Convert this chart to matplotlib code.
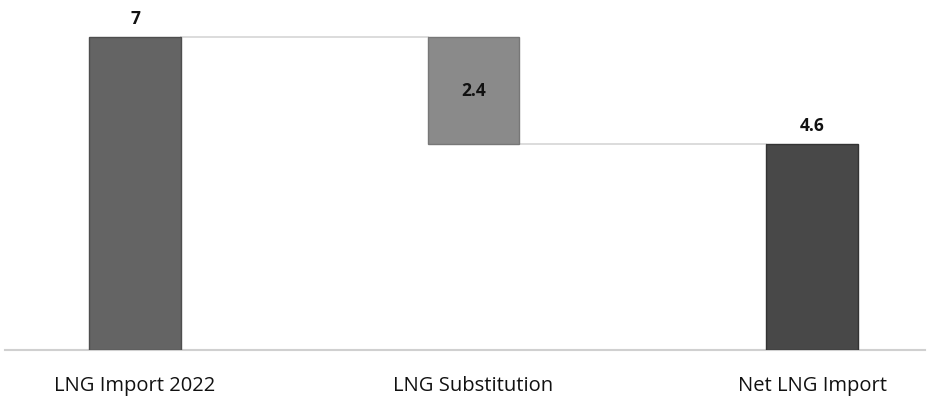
import matplotlib
matplotlib.use("Agg")
import matplotlib.pyplot as plt
from matplotlib import font_manager

categories = ["LNG Import 2022", "LNG Substitution", "Net LNG Import"]
values = [7.0, -2.4, 4.6]
labels = ["7", "2.4", "4.6"]
colors = ["#646464", "#8a8a8a", "#484848"]
edges = ["#4e4e4e", "#777777", "#333333"]

names = {f.name for f in font_manager.fontManager.ttflist}
narrow = "Liberation Sans Narrow" if "Liberation Sans Narrow" in names else "Open Sans"

fig = plt.figure(figsize=(9.3, 3.96), dpi=100)
ax = fig.add_axes([5 / 930, 46 / 396, 920 / 930, 350 / 396])

# waterfall geometry: totals start at zero, the change floats from the running total
start = values[0]
bottoms = [0, start + values[1], 0]
heights = [values[0], -values[1], values[2]]
x = list(range(len(categories)))
width = 0.27

ax.bar(x, heights, bottom=bottoms, width=width, color=colors,
       edgecolor=edges, linewidth=1.0, zorder=3)

# connectors between consecutive bars
tops = [b + h for b, h in zip(bottoms, heights)]
levels = [tops[0], bottoms[1]]
for i, lvl in enumerate(levels):
    ax.plot([x[i] + width / 2, x[i + 1] - width / 2], [lvl, lvl],
            color="#d9d9d9", lw=1.3, zorder=2)

# value labels
lbl = dict(fontsize=12.5, fontweight="bold", family=narrow, color="#111111")
ax.text(x[0], tops[0] + 0.2, labels[0], ha="center", va="bottom", **lbl)
ax.text(x[1], bottoms[1] + heights[1] / 2, labels[1], ha="center", va="center", **lbl)
ax.text(x[2], tops[2] + 0.2, labels[2], ha="center", va="bottom", **lbl)

ax.set_xlim((5 - 135) / 338.5, (925 - 135) / 338.5)
ax.set_ylim(0, 350 / 44.7)
ax.set_xticks(x)
ax.set_xticklabels(categories, family=narrow, fontsize=14.5, color="#111111")
ax.tick_params(axis="x", length=0, pad=19)
ax.set_yticks([])
for side in ["top", "right", "left"]:
    ax.spines[side].set_visible(False)
ax.spines["bottom"].set_color("#d0d0d0")
ax.spines["bottom"].set_linewidth(1.5)
ax.set_facecolor("none")

fig.savefig("out.png", dpi=100, facecolor="white")
